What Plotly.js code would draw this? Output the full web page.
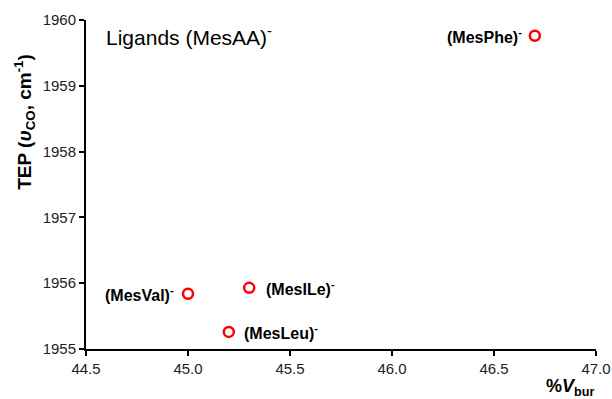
<!DOCTYPE html>
<html>
<head>
<meta charset="utf-8">
<script src="https://cdn.plot.ly/plotly-3.0.1.min.js"></script>
<style>html,body{margin:0;padding:0;background:#fff;}#chart{width:612px;height:399px;}</style>
</head>
<body>
<div id="chart"></div>
<script>
const ligands = ['(MesVal)', '(MesLeu)', '(MesILe)', '(MesPhe)'];
const vbur = [45.0, 45.2, 45.3, 46.7];
const tep = [1955.84, 1955.26, 1955.93, 1959.76];
const xTicks = [44.5, 45.0, 45.5, 46.0, 46.5, 47.0];
const yTicks = [1955, 1956, 1957, 1958, 1959, 1960];

// label placement (styling only)
const labelSide = ['right', 'left', 'left', 'right'];
const labelShift = [-12, 13, 15, -11];

const font = 'Arial, "Liberation Sans", sans-serif';

const trace = {
  x: vbur, y: tep,
  mode: 'markers', type: 'scatter',
  marker: {symbol: 'circle-open', size: 10, color: '#ff0000', line: {width: 2.5, color: '#ff0000'}},
  cliponaxis: false, hoverinfo: 'none'
};

const labelAnns = ligands.map((t, i) => ({
  text: '<b>' + t + '<sup>-</sup></b>', x: vbur[i], y: tep[i], xref: 'x', yref: 'y',
  xanchor: labelSide[i], yanchor: 'middle', xshift: labelShift[i], showarrow: false,
  font: {family: font, size: 16, color: '#000'}
}));

const layout = {
  width: 612, height: 399,
  margin: {l: 86, r: 16, t: 20, b: 50},
  paper_bgcolor: '#fff', plot_bgcolor: '#fff',
  showlegend: false,
  font: {family: font, color: '#000'},
  xaxis: {
    range: [44.5, 47.0], tickvals: xTicks, ticktext: xTicks.map(v => v.toFixed(1)),
    showgrid: false, zeroline: false, showline: true, linecolor: '#000', linewidth: 2,
    ticks: 'outside', ticklen: 5, tickwidth: 2, tickcolor: '#000',
    tickfont: {family: font, size: 15, color: '#222'}
  },
  yaxis: {
    range: [1955, 1960], tickvals: yTicks,
    showgrid: false, zeroline: false, showline: true, linecolor: '#000', linewidth: 2,
    ticks: 'outside', ticklen: 5, tickwidth: 2, tickcolor: '#000',
    tickfont: {family: font, size: 15, color: '#222'}
  },
  annotations: labelAnns.concat([
    {text: 'Ligands (MesAA)<sup>-</sup>', xref: 'paper', yref: 'paper', x: 0.036, y: 0.95,
     xanchor: 'left', yanchor: 'middle', showarrow: false, font: {family: font, size: 21, color: '#000'}},
    {text: '<b>%<i>V</i><sub>bur</sub></b>', xref: 'paper', yref: 'paper', x: 1.0, y: -0.075,
     xanchor: 'right', yanchor: 'top', showarrow: false, font: {family: font, size: 18, color: '#000'}},
    {text: '<b>TEP (<i>υ</i><sub>CO</sub>, cm<sup>-1</sup>)</b>', xref: 'paper', yref: 'paper', x: -0.12, y: 0.69,
     xanchor: 'center', yanchor: 'middle', textangle: -90, showarrow: false, font: {family: font, size: 19, color: '#000'}}
  ])
};

Plotly.newPlot('chart', [trace], layout, {displayModeBar: false, staticPlot: true});
</script>
</body>
</html>
